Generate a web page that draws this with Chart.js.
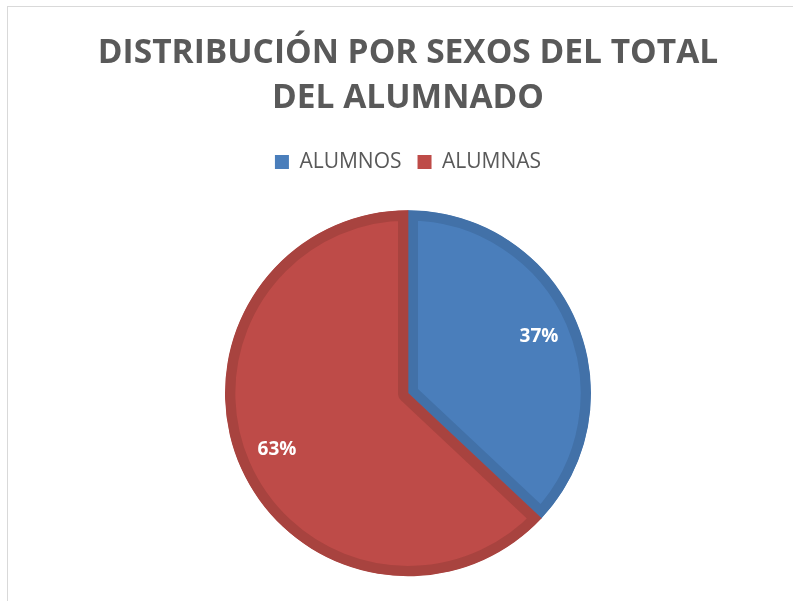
<!DOCTYPE html>
<html>
<head>
<meta charset="utf-8">
<script src="https://cdn.jsdelivr.net/npm/chart.js@4"></script>
<style>
    html, body { margin: 0; padding: 0; background: #fff; overflow: hidden; }
    #marco { position: absolute; left: 7px; top: 6px; width: 820px; height: 620px; border: 1px solid #d9d9d9; }
    #grafico { position: absolute; left: 0; top: 0; }
</style>
</head>
<body>
<div id="marco"></div>
<canvas id="grafico" width="793" height="604"></canvas>
<script>
// datos del grafico
var categorias = ['ALUMNOS', 'ALUMNAS'];
var porcentajes = [37, 63];
var colores = ['#4a7ebb', '#be4b48'];
var coloresBorde = ['#4271a8', '#a8433f'];

// etiquetas de porcentaje dentro de cada sector
var etiquetasPlugin = {
    id: 'etiquetas',
    afterDatasetsDraw: function (chart) {
        var ctx = chart.ctx;
        var meta = chart.getDatasetMeta(0);
        ctx.save();
        ctx.fillStyle = '#ffffff';
        ctx.font = 'bold 19px "Open Sans"';
        ctx.textAlign = 'center';
        ctx.textBaseline = 'middle';
        meta.data.forEach(function (arc, i) {
            var p = arc.getProps(['x', 'y', 'startAngle', 'endAngle', 'outerRadius'], true);
            var medio = (p.startAngle + p.endAngle) / 2;
            var r = p.outerRadius * 0.78;
            ctx.fillText(porcentajes[i] + '%', p.x + Math.cos(medio) * r, p.y + Math.sin(medio) * r);
        });
        ctx.restore();
    }
};

var ctx = document.getElementById('grafico').getContext('2d');
var pieChart = new Chart(ctx, {
    type: 'pie',
    data: {
        labels: categorias,
        datasets: [{
            data: porcentajes,
            backgroundColor: colores,
            borderColor: coloresBorde,
            borderWidth: 10,
            borderAlign: 'inner'
        }]
    },
    options: {
        responsive: false,
        animation: false,
        radius: 183,
        layout: { padding: { left: 23 } },
        plugins: {
            title: {
                display: true,
                text: ['DISTRIBUCIÓN POR SEXOS DEL TOTAL', 'DEL ALUMNADO'],
                color: '#595959',
                font: { family: 'Open Sans', size: 33.5, weight: 'bold', lineHeight: 1.343 },
                padding: { top: 31, bottom: 14.5 }
            },
            legend: {
                position: 'top',
                labels: {
                    color: '#595959',
                    font: { family: 'Open Sans', size: 21 },
                    boxWidth: 14,
                    boxHeight: 14,
                    padding: 16,
                    generateLabels: function (chart) {
                        var items = Chart.overrides.pie.plugins.legend.labels.generateLabels(chart);
                        items.forEach(function (it, i) {
                            it.lineWidth = 0;
                            it.strokeStyle = colores[i];
                        });
                        return items;
                    }
                }
            },
            tooltip: { enabled: false }
        }
    },
    plugins: [etiquetasPlugin]
});
</script>
</body>
</html>
